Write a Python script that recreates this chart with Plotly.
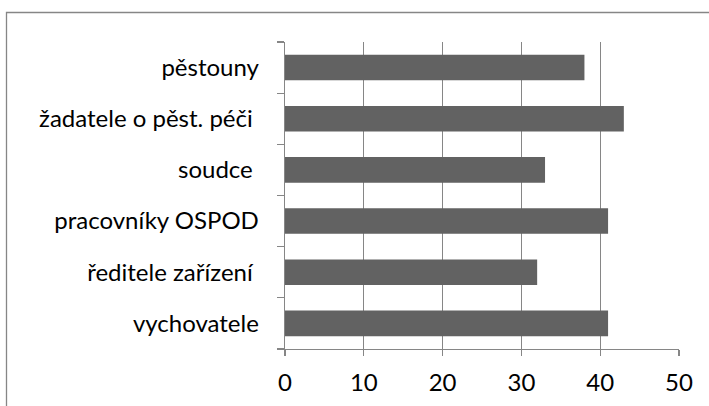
import plotly.graph_objects as go

categories = ["vychovatele", "ředitele zařízení ", "pracovníky OSPOD", "soudce ", "žadatele o pěst. péči ", "pěstouny"]
values = [41, 32, 41, 33, 43, 38]
x_ticks = [0, 10, 20, 30, 40, 50]

W, H = 709, 406
ml, mr, mt, mb = 285, 30, 42, 57
pw, ph = W - ml - mr, H - mt - mb

fig = go.Figure(go.Bar(
    y=categories, x=values, orientation="h",
    marker=dict(color="#626262", line=dict(width=0)),
    width=0.5, hoverinfo="skip",
))

axis_color = "#868686"
fig.update_layout(
    width=W, height=H,
    margin=dict(l=ml, r=mr, t=mt, b=mb, pad=0),
    paper_bgcolor="white", plot_bgcolor="white",
    font=dict(family="Lato", size=24, color="#000000"),
    showlegend=False,
    bargap=0.5,
    xaxis=dict(
        range=[0, 50], tickvals=x_ticks, ticktext=[str(v) for v in x_ticks],
        showgrid=True, gridcolor=axis_color, gridwidth=1.3,
        showline=True, linecolor=axis_color, linewidth=1.3,
        ticks="outside", ticklen=6, tickcolor=axis_color, tickwidth=1.3,
        ticklabelstandoff=6, zeroline=False, automargin=False,
    ),
    yaxis=dict(
        categoryorder="array", categoryarray=categories,
        showgrid=False, showline=True, linecolor=axis_color, linewidth=1.3,
        ticks="outside", ticklen=7, tickcolor=axis_color, tickwidth=1.3,
        tickson="boundaries", ticklabelstandoff=20, zeroline=False, automargin=False,
    ),
    shapes=[dict(
        type="rect", xref="paper", yref="paper",
        x0=(6.5 - ml) / pw, x1=2.0,
        y0=-1.0, y1=(H - mb - 12.5) / ph,
        line=dict(color="#868686", width=1.3), fillcolor="rgba(0,0,0,0)",
        layer="below",
    )],
)

fig.write_html(
    "out.html",
    config={"displayModeBar": False, "staticPlot": True},
    post_script="document.body.style.margin='0';document.body.style.overflow='hidden';",
)
